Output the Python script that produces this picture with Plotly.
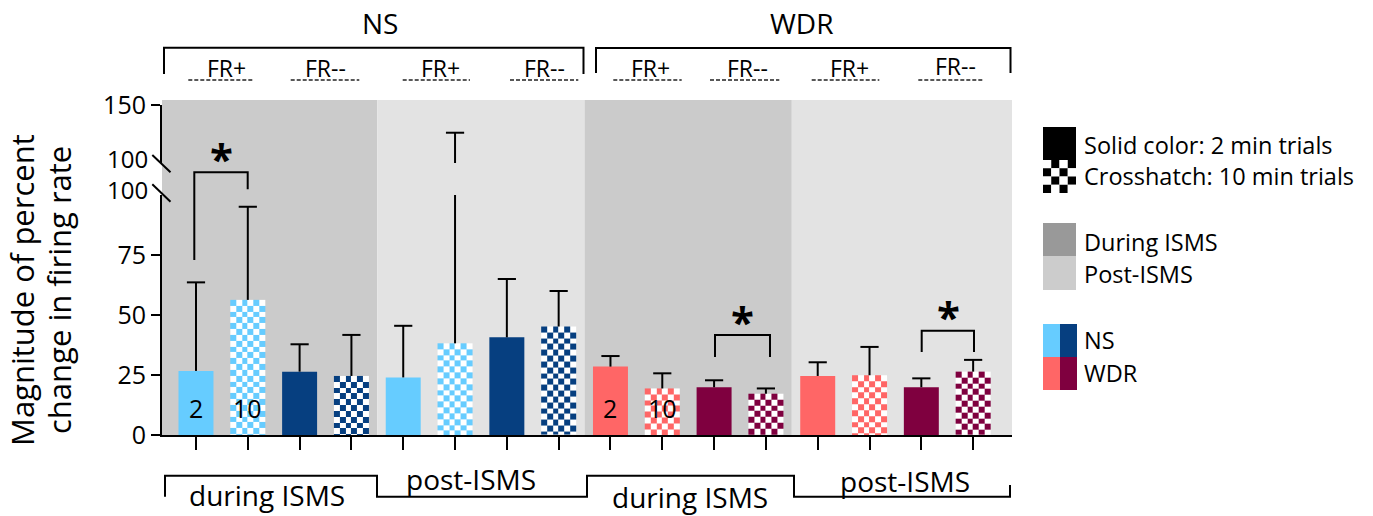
import math
import plotly.graph_objects as go

# ---------------- data ----------------
neuron_type = ["NS"] * 8 + ["WDR"] * 8
phase = (["during ISMS"] * 4 + ["post-ISMS"] * 4) * 2
fr_sign = ["FR+", "FR+", "FR--", "FR--"] * 4
trial = ["2 min", "10 min"] * 8

ns_mean = [26.7, 56.3, 26.4, 24.6, 24.0, 38.2, 40.7, 45.2]
ns_err = [36.9, 38.8, 11.4, 17.1, 21.5, 87.9, 24.3, 14.8]
wdr_mean = [28.5, 19.4, 19.9, 17.2, 24.6, 24.9, 19.9, 26.4]
wdr_err = [4.4, 6.3, 2.9, 2.2, 5.7, 11.8, 3.7, 4.9]

lower_ticks = [0, 25, 50, 75]
upper_ticks = [150]
n_labels = ["2", "10"]

colors = {("NS", "FR+"): "#66CCFF", ("NS", "FR--"): "#063F80",
          ("WDR", "FR+"): "#FF6666", ("WDR", "FR--"): "#7F003F"}

means = ns_mean + wdr_mean
errs = ns_err + wdr_err
xpos = list(range(len(means)))

# ---------------- layout geometry ----------------
W, H = 1373, 516
PL, PR, PT, PB = 162, 1012, 105, 435
X_RANGE = [-0.656, 15.75]
LOW_PX = 240  # pixel height of lower segment (0..100)
LOWER_DOM = [0, LOW_PX / (PB - PT)]
UPPER_DOM = [(PB - 163) / (PB - PT), 1]
BAR_W = 0.675
FONT = "Open Sans"


def fx(px):
    return (px - PL) / (PR - PL)


def fy(py):
    return (PB - py) / (PB - PT)


fig = go.Figure()

# checkerboard fill for 10-min bars
px_per_x = (PR - PL) / (X_RANGE[1] - X_RANGE[0])
px_per_y = LOW_PX / 100.0
ncol = 6
col_w = BAR_W / ncol
row_h = col_w * px_per_x / px_per_y
bar_colors = []
for i, m in enumerate(means):
    col = colors[(neuron_type[i], fr_sign[i])]
    if trial[i] == "10 min":
        bar_colors.append("rgba(0,0,0,0)")
        nrow = math.ceil(m / row_h)
        top_down = [max(m - k * row_h, 0) for k in range(nrow + 1)]
        yedges = top_down[::-1]
        xedges = [xpos[i] - BAR_W / 2 + k * col_w for k in range(ncol + 1)]
        z = []
        for r in range(nrow):
            rt = nrow - 1 - r
            z.append([(rt + c) % 2 for c in range(ncol)])
        fig.add_trace(go.Heatmap(x=xedges, y=yedges, z=z, zmin=0, zmax=1,
                                 colorscale=[[0, col], [1, "#ffffff"]],
                                 showscale=False, hoverinfo="skip",
                                 xaxis="x", yaxis="y"))
    else:
        bar_colors.append(col)

fig.add_trace(go.Bar(x=xpos, y=means, width=BAR_W, marker=dict(color=bar_colors, line=dict(width=0)),
                     xaxis="x", yaxis="y", hoverinfo="skip"))

# error bars (upper only) drawn in both segments
ex, ey = [], []
for i, m in enumerate(means):
    ex += [xpos[i], xpos[i], None]
    ey += [m, m + errs[i], None]
tops = [m + e for m, e in zip(means, errs)]
for xa, ya in (("x", "y"), ("x2", "y2")):
    fig.add_trace(go.Scatter(x=ex, y=ey, mode="lines", line=dict(color="black", width=2),
                             xaxis=xa, yaxis=ya, hoverinfo="skip"))
    fig.add_trace(go.Scatter(x=xpos, y=tops, mode="markers",
                             marker=dict(symbol="line-ew", size=13, line=dict(color="black", width=2)),
                             xaxis=xa, yaxis=ya, hoverinfo="skip"))

shapes = []
# background panels
for (a, b), c in zip([(X_RANGE[0], 3.5), (3.5, 7.5), (7.5, 11.5), (11.5, X_RANGE[1])],
                     ["#CBCBCB", "#E3E3E3", "#CBCBCB", "#E3E3E3"]):
    shapes.append(dict(type="rect", xref="x", yref="paper", x0=a, x1=b, y0=0, y1=fy(100),
                       fillcolor=c, line=dict(width=0), layer="below"))

# axis break marks
for y0, y1 in ((155, 172.3), (184.3, 201.7)):
    shapes.append(dict(type="line", xref="paper", yref="paper", x0=fx(152.3), x1=fx(170.5),
                       y0=fy(y0), y1=fy(y1), line=dict(color="black", width=2)))


def path(points):
    return "M" + " L".join(f"{fx(a):.5f},{fy(b):.5f}" for a, b in points)


LINE = dict(color="black", width=2)
# top group brackets
shapes.append(dict(type="path", xref="paper", yref="paper",
                   path=path([(164, 74), (164, 47.7), (583.5, 47.7), (583.5, 74)]), line=LINE))
shapes.append(dict(type="path", xref="paper", yref="paper",
                   path=path([(596, 73), (596, 48), (1010.5, 48), (1010.5, 73)]), line=LINE))
# bottom phase bracket
shapes.append(dict(type="path", xref="paper", yref="paper",
                   path=path([(165, 496.7), (165, 475.7), (377, 475.7), (377, 496.7), (587, 496.7),
                              (587, 475.7), (794, 475.7), (794, 496.7), (1010, 496.7), (1010, 485)]),
                   line=LINE))

# FR labels with dashed underline
fr_text_x = [226.7, 325, 440, 544.7, 650.8, 747, 849, 955]
fr_dash = [(188.3, 253.3), (290.7, 359.3), (402.7, 470), (510, 578.3),
           (613.3, 681.7), (710, 779.3), (811.7, 879.3), (918.3, 982.7)]
fr_text_y = [68, 68, 68, 68, 68, 68, 68, 66]
for a, b in fr_dash:
    shapes.append(dict(type="line", xref="paper", yref="paper", x0=fx(a), x1=fx(b), y0=fy(80), y1=fy(80),
                       line=dict(color="#222222", width=1.6, dash="4px,2px")))

# significance brackets
shapes.append(dict(type="path", xref="paper", yref="paper",
                   path=path([(194.3, 260), (194.3, 172.3), (247.7, 172.3), (247.7, 189.3)]), line=LINE))
shapes.append(dict(type="path", xref="paper", yref="paper",
                   path=path([(715, 357), (715, 335), (770, 335), (770, 357)]), line=LINE))
shapes.append(dict(type="path", xref="paper", yref="paper",
                   path=path([(921.7, 352), (921.7, 330.7), (974, 330.7), (974, 352)]), line=LINE))

# legend glyphs
LX0, LX1 = 1043, 1076


def rect(x0, x1, y0, y1, c):
    return dict(type="rect", xref="paper", yref="paper", x0=fx(x0), x1=fx(x1), y0=fy(y1), y1=fy(y0),
                fillcolor=c, line=dict(width=0))


shapes.append(rect(LX0, LX1, 127, 160, "black"))
cs = (LX1 - LX0) / 4
for r in range(4):
    for c in range(4):
        shapes.append(rect(LX0 + c * cs, LX0 + (c + 1) * cs, 160 + r * cs, 160 + (r + 1) * cs,
                           "black" if (r + c) % 2 == 1 else "white"))
shapes.append(rect(LX0, LX1, 223, 256.5, "#999999"))
shapes.append(rect(LX0, LX1, 256.5, 290, "#CCCCCC"))
shapes.append(rect(LX0, 1060, 324, 357, colors[("NS", "FR+")]))
shapes.append(rect(1060, 1077, 324, 357, colors[("NS", "FR--")]))
shapes.append(rect(LX0, 1060, 357, 390, colors[("WDR", "FR+")]))
shapes.append(rect(1060, 1077, 357, 390, colors[("WDR", "FR--")]))

ann = []


def text(t, px, py, size, xanchor="center", angle=0, bold=False):
    ann.append(dict(text=t, x=fx(px), y=fy(py), xref="paper", yref="paper", showarrow=False,
                    xanchor=xanchor, yanchor="middle", textangle=angle,
                    font=dict(family=FONT, size=size, color="black",
                              weight="bold" if bold else "normal")))


text("NS", 380, 23, 28)
text("WDR", 801, 23, 28)
for lbl, tx, ty in zip(fr_sign[::2], fr_text_x, fr_text_y):
    text(lbl, tx, ty, 23)
text("during ISMS", 267, 495, 28)
text("post-ISMS", 471, 479, 28)
text("during ISMS", 690, 497, 28)
text("post-ISMS", 905, 481, 28)
text("Magnitude of percent", 22, 290, 31, angle=-90)
text("change in firing rate", 59, 290, 31, angle=-90)
text("100", 150, 158, 24, xanchor="right")
text("100", 150, 189, 24, xanchor="right")
for sx, sy in ((221.7, 150), (742.7, 313), (948, 308)):
    text("*", sx, sy + 7, 42, bold=True)
legend_items = [("Solid color: 2 min trials", 145), ("Crosshatch: 10 min trials", 176),
                ("During ISMS", 242), ("Post-ISMS", 274), ("NS", 340), ("WDR", 373)]
for t, ly in legend_items:
    text(t, 1082, ly, 23.5, xanchor="left")

# n labels inside first bars of each group
for xi in (0, 8):
    for k, lbl in enumerate(n_labels):
        ann.append(dict(text=lbl, x=xpos[xi + k], y=11.25, xref="x", yref="y", showarrow=False,
                        font=dict(family=FONT, size=25, color="black")))

fig.update_layout(
    width=W, height=H, margin=dict(l=PL, r=W - PR, t=PT, b=H - PB),
    paper_bgcolor="white", plot_bgcolor="rgba(0,0,0,0)", showlegend=False,
    font=dict(family=FONT, color="black"),
    xaxis=dict(domain=[0, 1], range=X_RANGE, anchor="y", tickvals=xpos, showticklabels=False,
               ticks="outside", ticklen=13, tickwidth=1.5, tickcolor="black",
               showline=True, linecolor="black", linewidth=2, showgrid=False, zeroline=False),
    xaxis2=dict(domain=[0, 1], range=X_RANGE, anchor="y2", matches="x", visible=False),
    yaxis=dict(domain=LOWER_DOM, range=[0, 100], anchor="x", tickvals=lower_ticks,
               ticks="outside", ticklen=9, tickwidth=2, tickcolor="black",
               showline=True, linecolor="black", linewidth=2, showgrid=False, zeroline=False,
               tickfont=dict(family=FONT, size=25, color="black")),
    yaxis2=dict(domain=UPPER_DOM, range=[100, 150], anchor="x2", tickvals=upper_ticks,
                ticks="outside", ticklen=9, tickwidth=2, tickcolor="black",
                showline=True, linecolor="black", linewidth=2, showgrid=False, zeroline=False,
                tickfont=dict(family=FONT, size=25, color="black")),
    shapes=shapes, annotations=ann,
)

fig.write_html("out.html")
